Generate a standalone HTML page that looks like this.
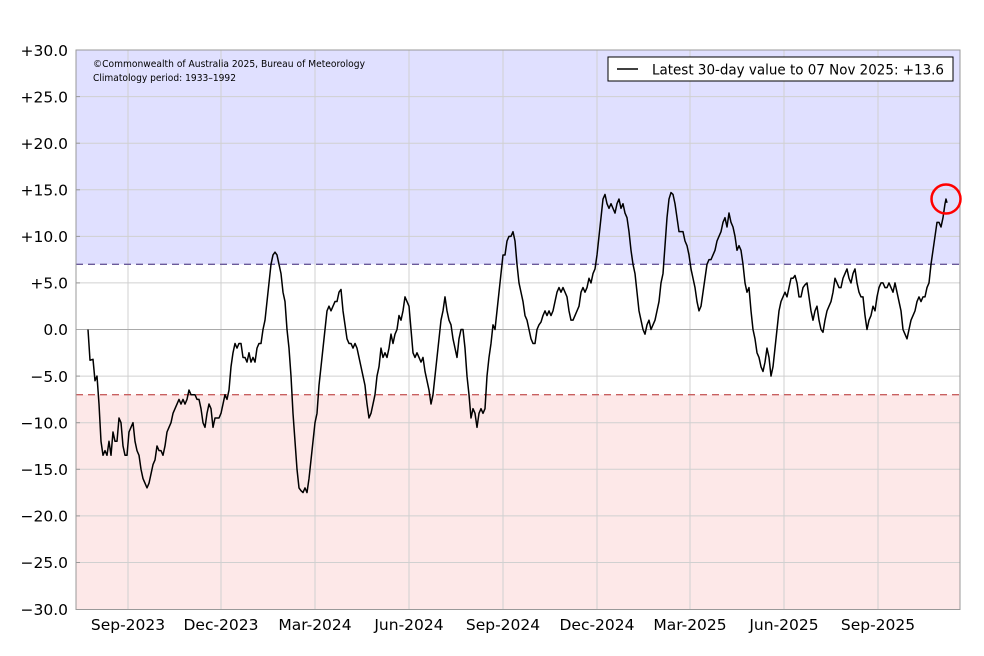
<!DOCTYPE html>
<html><head><meta charset="utf-8"><style>
html,body{margin:0;padding:0;background:#fff}
svg{display:block;font-family:"DejaVu Sans","Liberation Sans",sans-serif}
</style></head><body>
<svg width="984" height="656" viewBox="0 0 984 656">
<rect x="76" y="50" width="884" height="214.3" fill="#e0e0ff"/>
<rect x="76" y="394.7" width="884" height="214.8" fill="#fde8e8"/>
<g stroke="#d0d0d0" stroke-width="1">
<line x1="128" y1="50" x2="128" y2="609"/><line x1="221" y1="50" x2="221" y2="609"/><line x1="315" y1="50" x2="315" y2="609"/><line x1="409" y1="50" x2="409" y2="609"/><line x1="503" y1="50" x2="503" y2="609"/><line x1="597" y1="50" x2="597" y2="609"/><line x1="690" y1="50" x2="690" y2="609"/><line x1="784" y1="50" x2="784" y2="609"/><line x1="878" y1="50" x2="878" y2="609"/>
<line x1="76" y1="96.6" x2="960" y2="96.6"/><line x1="76" y1="143.2" x2="960" y2="143.2"/><line x1="76" y1="189.8" x2="960" y2="189.8"/><line x1="76" y1="236.4" x2="960" y2="236.4"/><line x1="76" y1="282.9" x2="960" y2="282.9"/><line x1="76" y1="376.1" x2="960" y2="376.1"/><line x1="76" y1="422.7" x2="960" y2="422.7"/><line x1="76" y1="469.3" x2="960" y2="469.3"/><line x1="76" y1="515.9" x2="960" y2="515.9"/><line x1="76" y1="562.5" x2="960" y2="562.5"/>
</g>
<line x1="76" y1="329.5" x2="960" y2="329.5" stroke="#aaa" stroke-width="1"/>
<line x1="76" y1="264.3" x2="960" y2="264.3" stroke="#6a5a9a" stroke-width="1.3" stroke-dasharray="7,5"/>
<line x1="76" y1="394.7" x2="960" y2="394.7" stroke="#c86060" stroke-width="1.3" stroke-dasharray="7,5"/>
<rect x="76" y="50" width="884" height="559.5" fill="none" stroke="#999" stroke-width="1"/>
<g stroke="#999"><line x1="76" y1="96.6" x2="80" y2="96.6"/><line x1="76" y1="143.2" x2="80" y2="143.2"/><line x1="76" y1="189.8" x2="80" y2="189.8"/><line x1="76" y1="236.4" x2="80" y2="236.4"/><line x1="76" y1="282.9" x2="80" y2="282.9"/><line x1="76" y1="376.1" x2="80" y2="376.1"/><line x1="76" y1="422.7" x2="80" y2="422.7"/><line x1="76" y1="469.3" x2="80" y2="469.3"/><line x1="76" y1="515.9" x2="80" y2="515.9"/><line x1="76" y1="562.5" x2="80" y2="562.5"/></g>
<g font-size="15.5" text-anchor="end" fill="#000">
<text x="68" y="56">+30.0</text><text x="68" y="102.5">+25.0</text><text x="68" y="149">+20.0</text><text x="68" y="195.5">+15.0</text><text x="68" y="242">+10.0</text><text x="68" y="288.5">+5.0</text><text x="68" y="335">0.0</text><text x="68" y="382">−5.0</text><text x="68" y="428.5">−10.0</text><text x="68" y="475">−15.0</text><text x="68" y="521.5">−20.0</text><text x="68" y="568">−25.0</text><text x="68" y="615">−30.0</text>
</g>
<g font-size="15.5" text-anchor="middle" fill="#000">
<text x="128" y="630">Sep-2023</text><text x="221" y="630">Dec-2023</text><text x="315" y="630">Mar-2024</text><text x="409" y="630">Jun-2024</text><text x="503" y="630">Sep-2024</text><text x="597" y="630">Dec-2024</text><text x="690" y="630">Mar-2025</text><text x="784" y="630">Jun-2025</text><text x="878" y="630">Sep-2025</text>
</g>
<text x="93" y="67" font-size="10" textLength="272" lengthAdjust="spacingAndGlyphs">©Commonwealth of Australia 2025, Bureau of Meteorology</text>
<text x="93" y="81" font-size="10" textLength="143" lengthAdjust="spacingAndGlyphs">Climatology period: 1933–1992</text>
<rect x="608" y="57" width="345" height="24" fill="#fff" stroke="#000" stroke-width="1"/>
<line x1="617" y1="69" x2="638" y2="69" stroke="#000" stroke-width="1.5"/>
<text x="652" y="74.5" font-size="14.5" textLength="292" lengthAdjust="spacingAndGlyphs">Latest 30-day value to 07 Nov 2025: +13.6</text>
<g transform="translate(0,329.5) scale(1,-9.317)">
<polyline fill="none" stroke="#000" stroke-width="1.5" vector-effect="non-scaling-stroke" stroke-linejoin="round" points="88,0 90,-3.3 93,-3.2 95,-5.5 97,-5 99,-8 101,-12 103,-13.5 105,-13 107,-13.5 109,-12 111,-13.5 113,-11 115,-12 117,-12 119,-9.5 121,-10 123,-12.5 125,-13.5 127,-13.5 129,-11 131,-10.5 133,-10 135,-12 137,-13 139,-13.5 141,-15 143,-16 145,-16.5 147,-17 149,-16.5 151,-15.5 153,-14.5 155,-14 157,-12.5 159,-13 161,-13 163,-13.5 165,-12.5 167,-11 169,-10.5 171,-10 173,-9 175,-8.5 177,-8 179,-7.5 181,-8 183,-7.5 185,-8 187,-7.5 189,-6.5 191,-7 193,-7 195,-7 197,-7.5 199,-7.5 201,-8.5 203,-10 205,-10.5 207,-9 209,-8 211,-8.5 213,-10.5 215,-9.5 217,-9.5 219,-9.5 221,-9 223,-8 225,-7 227,-7.5 229,-6.5 231,-4 233,-2.5 235,-1.5 237,-2 239,-1.5 241,-1.5 243,-3 245,-3 247,-3.5 249,-2.5 251,-3.5 253,-3 255,-3.5 257,-2 259,-1.5 261,-1.5 263,0 265,1 267,3 269,5 271,7 273,8 275,8.3 277,8 279,7 281,6 283,4 285,3 287,0 289,-2 291,-5 293,-9 295,-12 297,-15 299,-17 301,-17.3 303,-17.5 305,-17 307,-17.5 309,-16 311,-14 313,-12 315,-10 317,-9 319,-6 321,-4 323,-2 325,0 327,2 329,2.5 331,2 333,2.5 335,3 337,3 339,4 341,4.3 343,2 345,0.5 347,-1 349,-1.5 351,-1.5 353,-2 355,-1.5 357,-2 359,-3 361,-4 363,-5 365,-6 367,-8 369,-9.5 371,-9 373,-8 375,-7 377,-5 379,-4 381,-2 383,-3 385,-2.5 387,-3 389,-2 391,-0.5 393,-1.5 395,-0.5 397,0 399,1.5 401,1 403,2 405,3.5 407,3 409,2.5 411,0 413,-2.5 415,-3 417,-2.5 419,-3 421,-3.5 423,-3 425,-4.5 427,-5.5 429,-6.5 431,-8 433,-7 435,-5 437,-3 439,-1 441,1 443,2 445,3.5 447,2 449,1 451,0.5 453,-1 455,-2 457,-3 459,-1 461,0 463,0 465,-2 467,-5 469,-7 471,-9.5 473,-8.5 475,-9 477,-10.5 479,-9 481,-8.5 483,-9 485,-8.5 487,-5 489,-3 491,-1.5 493,0.5 495,0 497,2 499,4 501,6 503,8 505,8 507,9.5 509,10 511,10 513,10.5 515,9.5 517,7 519,5 521,4 523,3 525,1.5 527,1 529,0 531,-1 533,-1.5 535,-1.5 537,0 539,0.5 541,0.8 543,1.5 545,2 547,1.5 549,2 551,1.5 553,2 555,3 557,4 559,4.5 561,4 563,4.5 565,4 567,3.5 569,2 571,1 573,1 575,1.5 577,2 579,2.5 581,4 583,4.5 585,4 587,4.5 589,5.5 591,5 593,6 595,6.5 597,8 599,10 601,12 603,14 605,14.5 607,13.5 609,13 611,13.5 613,13 615,12.5 617,13.5 619,14 621,13 623,13.5 625,12.5 627,12 629,10.5 631,8.5 633,7 635,6 637,4 639,2 641,1 643,0 645,-0.5 647,0.5 649,1 651,0 653,0.5 655,1 657,2 659,3 661,5 663,6 665,9 667,12 669,14 671,14.7 673,14.5 675,13.5 677,12 679,10.5 681,10.5 683,10.5 685,9.5 687,9 689,8 691,6.5 693,5.5 695,4.5 697,3 699,2 701,2.5 703,4 705,5.5 707,7 709,7.5 711,7.5 713,8 715,8.5 717,9.5 719,10 721,10.5 723,11.5 725,12 727,11 729,12.5 731,11.5 733,11 735,10 737,8.5 739,9 741,8.5 743,7 745,5 747,4 749,4.5 751,2 753,0 755,-1 757,-2.5 759,-3 761,-4 763,-4.5 765,-3.5 767,-2 769,-3 771,-5 773,-4 775,-2 777,0 779,2 781,3 783,3.5 785,4 787,3.5 789,4.5 791,5.5 793,5.5 795,5.8 797,5 799,3.5 801,3.5 803,4.5 805,4.8 807,5 809,3.5 811,2 813,1 815,2 817,2.5 819,1 821,0 823,-0.3 825,1 827,2 829,2.5 831,3 833,4 835,5.5 837,5 839,4.5 841,4.5 843,5.5 845,6 847,6.5 849,5.5 851,5 853,6 855,6.5 857,5 859,4 861,3.5 863,3.5 865,1.5 867,0 869,1 871,1.5 873,2.5 875,2 877,3.5 879,4.5 881,5 883,5 885,4.5 887,4.5 889,5 891,4.5 893,4 895,5 897,4 899,3 901,2 903,0 905,-0.5 907,-1 909,0 911,1 913,1.5 915,2 917,3 919,3.5 921,3 923,3.5 925,3.5 927,4.5 929,5 931,7 933,8.5 935,10 937,11.5 939,11.5 941,11 943,12 945,13.5 946,14 947,13.6"/>
</g>
<circle cx="946" cy="199" r="14.5" fill="none" stroke="#ff0000" stroke-width="2.5"/>
</svg>
</body></html>
